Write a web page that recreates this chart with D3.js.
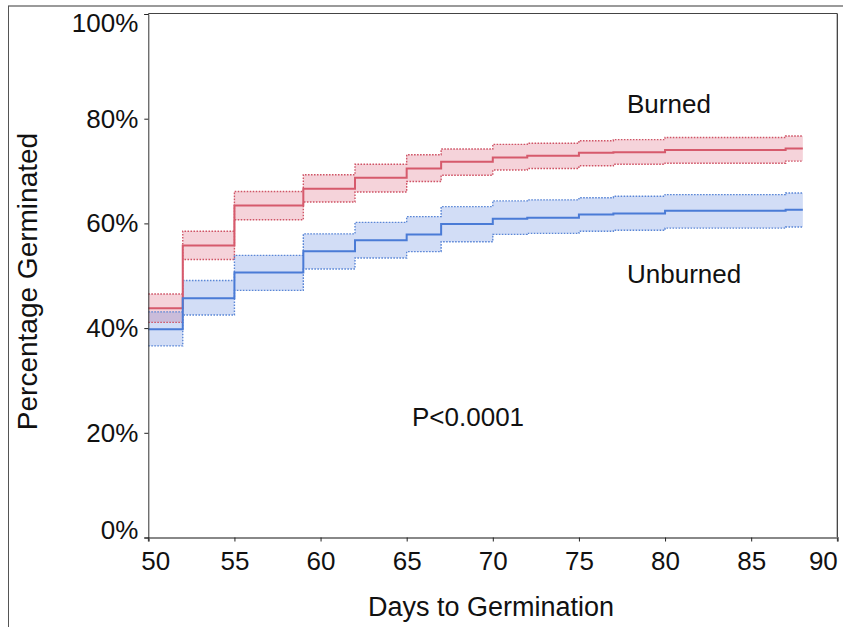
<!DOCTYPE html>
<html><head><meta charset="utf-8">
<script src="https://cdn.jsdelivr.net/npm/d3@7"></script>
<style>
body{margin:0;background:#fff}
svg{display:block}
text{font-family:"Liberation Sans",Arial,Helvetica,sans-serif;fill:#111}
</style>
</head><body>
<svg id="c" width="843" height="627"></svg>
<script>
// ---- data (percent germinated, step function starting at each day) ----
const stepDays = [50, 52, 55, 59, 62, 65, 67, 70, 72, 75, 77, 80, 87];
const endDay = 88;
const burned      = [43.8, 55.8, 63.4, 66.6, 68.7, 70.5, 71.8, 72.6, 72.9, 73.5, 73.6, 74.0, 74.3];
const burnedUpper = [46.5, 58.5, 66.1, 69.3, 71.3, 73.1, 74.2, 75.1, 75.3, 75.8, 76.0, 76.4, 76.7];
const burnedLower = [41.1, 53.1, 60.7, 64.1, 66.0, 68.0, 69.2, 70.2, 70.5, 71.0, 71.3, 71.5, 71.9];
const unburned      = [39.8, 45.7, 50.6, 54.7, 56.8, 57.9, 59.9, 60.9, 61.1, 61.7, 61.9, 62.4, 62.6];
const unburnedUpper = [43.1, 49.1, 53.9, 58.0, 60.2, 61.3, 63.2, 64.3, 64.5, 64.9, 65.2, 65.5, 65.8];
const unburnedLower = [36.6, 42.5, 47.2, 51.3, 53.4, 54.6, 56.5, 57.9, 58.1, 58.5, 58.7, 59.1, 59.3];
const xTicks = [50, 55, 60, 65, 70, 75, 80, 85, 90];
const xMinor = [52.5, 57.5, 62.5, 67.5, 72.5, 77.5, 82.5, 87.5];
const yTicks = [0, 20, 40, 60, 80, 100];
const yMinor = [10, 30, 50, 70, 90];
const labels = {burned: "Burned", unburned: "Unburned", p: "P<0.0001",
                x: "Days to Germination", y: "Percentage Germinated"};

const svg = d3.select("#c");
const x = d3.scaleLinear().domain([50, 90]).range([148.3, 837.3]);
const y = d3.scaleLinear().domain([0, 100]).range([537.5, 14]);

// outer frame fragments
svg.append("line").attr("x1", 8).attr("x2", 843).attr("y1", 6).attr("y2", 6)
  .attr("stroke", "#9a9a9a").attr("stroke-width", 2);
svg.append("line").attr("x1", 8.5).attr("x2", 8.5).attr("y1", 6).attr("y2", 627)
  .attr("stroke", "#555").attr("stroke-width", 1);

function series(mid, up, lo) {
  const pts = stepDays.map((d, i) => ({day: d, m: mid[i], u: up[i], l: lo[i]}));
  const last = pts[pts.length - 1];
  pts.push({day: endDay, m: last.m, u: last.u, l: last.l});
  return pts;
}
const groups = [
  {pts: series(burned, burnedUpper, burnedLower), line: "#d65a6c", fill: "rgba(217,80,106,0.25)", dot: "#cf5466"},
  {pts: series(unburned, unburnedUpper, unburnedLower), line: "#4a7bd6", fill: "rgba(74,120,220,0.25)", dot: "#5a86d6"}
];

const area = d3.area().curve(d3.curveStepAfter).x(d => x(d.day)).y0(d => y(d.l)).y1(d => y(d.u));
const lineOf = key => d3.line().curve(d3.curveStepAfter).x(d => x(d.day)).y(d => y(d[key]));

groups.forEach(g => {
  svg.append("path").attr("d", area(g.pts)).attr("fill", g.fill).attr("stroke", "none");
});
groups.forEach(g => {
  ["u", "l"].forEach(k => {
    svg.append("path").attr("d", lineOf(k)(g.pts)).attr("fill", "none")
      .attr("stroke", g.dot).attr("stroke-width", 1.4).attr("stroke-dasharray", "1.6,1.4");
  });
});
groups.forEach(g => {
  svg.append("path").attr("d", lineOf("m")(g.pts)).attr("fill", "none")
    .attr("stroke", g.line).attr("stroke-width", 2);
});

// inner frame (top, right)
svg.append("line").attr("x1", 148.3).attr("x2", 837.3).attr("y1", 13.5).attr("y2", 13.5)
  .attr("stroke", "#444").attr("stroke-width", 1);
svg.append("line").attr("x1", 837.3).attr("x2", 837.3).attr("y1", 13.5).attr("y2", 537.5)
  .attr("stroke", "#333").attr("stroke-width", 1.2);

// x axis
const gx = svg.append("g").attr("transform", "translate(0,537.5)");
gx.call(d3.axisBottom(x).tickValues(xMinor).tickSize(3).tickFormat(""));
gx.call(d3.axisBottom(x).tickValues(xTicks).tickSize(4).tickPadding(10).tickFormat(d => d));
gx.selectAll(".domain").attr("stroke", "#888").attr("stroke-width", 2);
gx.selectAll(".tick line").attr("stroke", "#222");
gx.selectAll("text").attr("font-size", 26).attr("fill", "#111")
  .style("font-family", '"Liberation Sans",Arial,Helvetica,sans-serif');
gx.selectAll(".tick text").filter(d => d === xTicks[0]).attr("dx", 7);
gx.selectAll(".tick text").filter(d => d === xTicks[xTicks.length - 1]).attr("text-anchor", "end").attr("dx", 0);

// y axis
const gy = svg.append("g").attr("transform", "translate(148.3,0)");
gy.call(d3.axisLeft(y).tickValues(yMinor).tickSize(2).tickFormat(""));
gy.call(d3.axisLeft(y).tickValues(yTicks).tickSize(4).tickPadding(6).tickFormat(d => d + "%"));
gy.selectAll(".domain").attr("stroke", "#333").attr("stroke-width", 1);
gy.selectAll(".tick line").attr("stroke", "#222");
gy.selectAll("text").attr("font-size", 26).attr("fill", "#111")
  .style("font-family", '"Liberation Sans",Arial,Helvetica,sans-serif');
gy.selectAll(".tick text").filter(d => d === 100).attr("dy", "0.68em");
gy.selectAll(".tick text").filter(d => d === 0).attr("dy", "0.02em");

// titles
svg.append("text").attr("x", 491).attr("y", 616).attr("text-anchor", "middle")
  .attr("font-size", 27).text(labels.x);
svg.append("text").attr("transform", "translate(37,281.5) rotate(-90)").attr("text-anchor", "middle")
  .attr("font-size", 28).text(labels.y);

// annotations
svg.append("text").attr("x", 627).attr("y", 113).attr("font-size", 26).text(labels.burned);
svg.append("text").attr("x", 627).attr("y", 283).attr("font-size", 26).text(labels.unburned);
svg.append("text").attr("x", 412).attr("y", 426).attr("font-size", 26).text(labels.p);
</script>
</body></html>
